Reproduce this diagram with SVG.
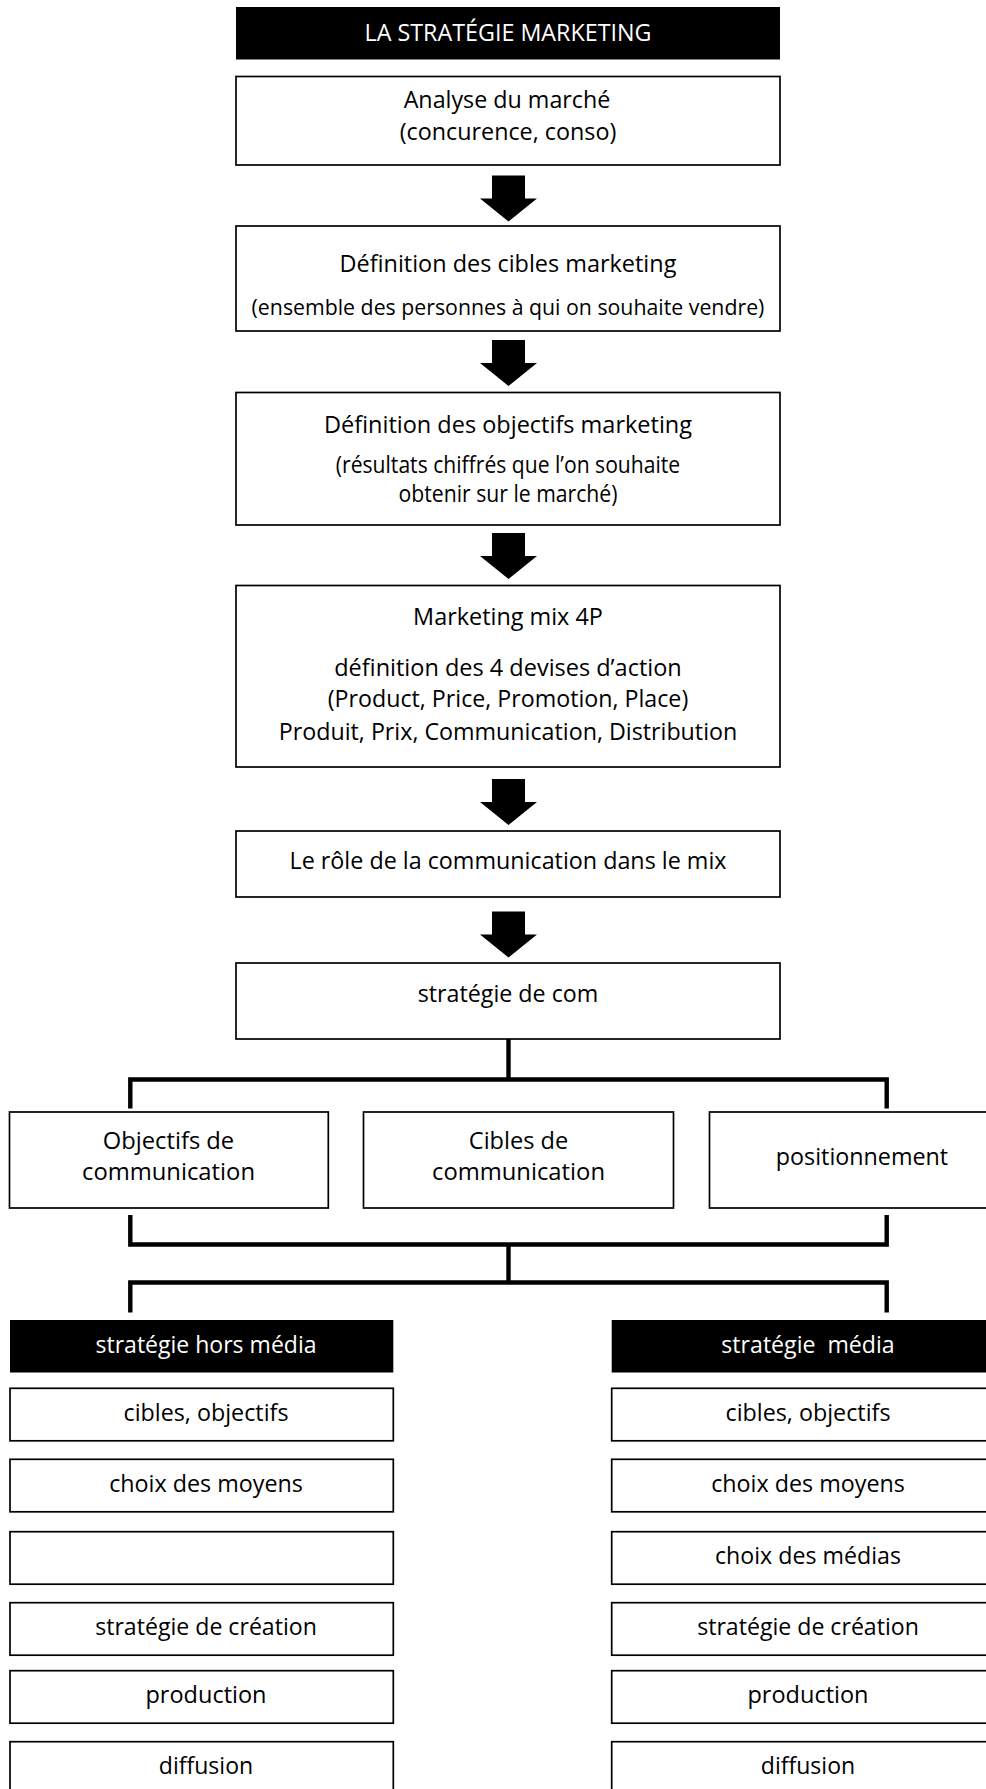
<svg xmlns="http://www.w3.org/2000/svg" width="986" height="1789" viewBox="0 0 986 1789">
<style>
  .box { fill: #ffffff; stroke: #000000; stroke-width: 1.7; }
  .hdr { fill: #000000; stroke: none; }
  .t { font-family: "Open Sans", "Noto Sans", "Liberation Sans", sans-serif; font-size: 23px; fill: #000000; text-anchor: middle; }
  .tw { font-family: "Open Sans", "Noto Sans", "Liberation Sans", sans-serif; font-size: 23px; fill: #ffffff; text-anchor: middle; }
  .sm { font-size: 21px; }
  .conn { fill: none; stroke: #000000; stroke-width: 4.4; stroke-linejoin: miter; stroke-linecap: butt; }
  .arrow { fill: #000000; stroke: none; }
</style>
<defs>
  <polygon id="arr" class="arrow" points="-16.5,0 16.5,0 16.5,23 28.5,23 0,46 -28.5,23 -16.5,23"/>
</defs>

<g id="connectors">
  <use href="#arr" transform="translate(508.5,175.5)"/>
  <use href="#arr" transform="translate(508.5,340)"/>
  <use href="#arr" transform="translate(508.5,533)"/>
  <use href="#arr" transform="translate(508.5,779)"/>
  <use href="#arr" transform="translate(508.5,911.5)"/>
  <path class="conn" d="M508.5,1039 V1079.5"/>
  <path class="conn" d="M130.3,1108.5 V1079.5 H886.7 V1108.5"/>
  <path class="conn" d="M130.3,1215 V1244.5 H886.7 V1215"/>
  <path class="conn" d="M508.5,1244.5 V1282.5"/>
  <path class="conn" d="M130.3,1312.5 V1282.5 H886.7 V1312.5"/>
</g>

<g id="title">
  <rect class="hdr" x="236" y="7" width="544" height="52.5"/>
  <text class="tw" x="508" y="40.7" textLength="287" lengthAdjust="spacingAndGlyphs">LA STRATÉGIE MARKETING</text>
</g>

<g id="analyse">
  <rect class="box" x="236" y="76.5" width="544" height="88.5"/>
  <text class="t" x="507" y="108.3" textLength="206.7" lengthAdjust="spacingAndGlyphs">Analyse du marché</text>
  <text class="t" x="508" y="140" textLength="216.7" lengthAdjust="spacingAndGlyphs">(concurence, conso)</text>
</g>

<g id="cibles-marketing">
  <rect class="box" x="236" y="226" width="544" height="105"/>
  <text class="t" x="508" y="271.7" textLength="336.8" lengthAdjust="spacingAndGlyphs">Définition des cibles marketing</text>
  <text class="t sm" x="508" y="315" textLength="512.8" lengthAdjust="spacingAndGlyphs">(ensemble des personnes à qui on souhaite vendre)</text>
</g>

<g id="objectifs-marketing">
  <rect class="box" x="236" y="392.5" width="544" height="132.5"/>
  <text class="t" x="508" y="433.3" textLength="368" lengthAdjust="spacingAndGlyphs">Définition des objectifs marketing</text>
  <text class="t" x="508" y="472.7" textLength="344.4" lengthAdjust="spacingAndGlyphs">(résultats chiffrés que l’on souhaite</text>
  <text class="t" x="508" y="502" textLength="219" lengthAdjust="spacingAndGlyphs">obtenir sur le marché)</text>
</g>

<g id="mix">
  <rect class="box" x="236" y="585.5" width="544" height="181.5"/>
  <text class="t" x="508" y="624.5" textLength="189.8" lengthAdjust="spacingAndGlyphs">Marketing mix 4P</text>
  <text class="t" x="508" y="676" textLength="347.5" lengthAdjust="spacingAndGlyphs">définition des 4 devises d’action</text>
  <text class="t" x="508" y="706.7" textLength="360.5" lengthAdjust="spacingAndGlyphs">(Product, Price, Promotion, Place)</text>
  <text class="t" x="508" y="739.5" textLength="458.5" lengthAdjust="spacingAndGlyphs">Produit, Prix, Communication, Distribution</text>
</g>

<g id="role">
  <rect class="box" x="236" y="831" width="544" height="66"/>
  <text class="t" x="508" y="869.3" textLength="437" lengthAdjust="spacingAndGlyphs">Le rôle de la communication dans le mix</text>
</g>

<g id="strategie-com">
  <rect class="box" x="236" y="963" width="544" height="76"/>
  <text class="t" x="508" y="1001.7" textLength="180.5" lengthAdjust="spacingAndGlyphs">stratégie de com</text>
</g>

<g id="objectifs-com">
  <rect class="box" x="9.5" y="1112" width="318.8" height="96"/>
  <text class="t" x="168.5" y="1149.3" textLength="131.4" lengthAdjust="spacingAndGlyphs">Objectifs de</text>
  <text class="t" x="168.5" y="1180" textLength="173" lengthAdjust="spacingAndGlyphs">communication</text>
</g>

<g id="cibles-com">
  <rect class="box" x="363.5" y="1112" width="310" height="96"/>
  <text class="t" x="518.5" y="1149.3" textLength="99.4" lengthAdjust="spacingAndGlyphs">Cibles de</text>
  <text class="t" x="518.5" y="1180" textLength="173" lengthAdjust="spacingAndGlyphs">communication</text>
</g>

<g id="positionnement">
  <rect class="box" x="709.5" y="1112" width="305" height="96"/>
  <text class="t" x="862" y="1165" textLength="172.3" lengthAdjust="spacingAndGlyphs">positionnement</text>
</g>

<g id="hors-media">
  <rect class="hdr" x="10" y="1320" width="383.3" height="52.5"/>
  <text class="tw" x="206" y="1352.7" textLength="221" lengthAdjust="spacingAndGlyphs">stratégie hors média</text>
</g>
<g id="hm-cibles">
  <rect class="box" x="10" y="1388.3" width="383.3" height="52.5"/>
  <text class="t" x="206" y="1420.8" textLength="165" lengthAdjust="spacingAndGlyphs">cibles, objectifs</text>
</g>
<g id="hm-moyens">
  <rect class="box" x="10" y="1459.3" width="383.3" height="52.5"/>
  <text class="t" x="206" y="1491.8" textLength="193.7" lengthAdjust="spacingAndGlyphs">choix des moyens</text>
</g>
<g id="hm-vide">
  <rect class="box" x="10" y="1531.7" width="383.3" height="52.5"/>
</g>
<g id="hm-creation">
  <rect class="box" x="10" y="1602.7" width="383.3" height="52.5"/>
  <text class="t" x="206" y="1635.2" textLength="221.7" lengthAdjust="spacingAndGlyphs">stratégie de création</text>
</g>
<g id="hm-production">
  <rect class="box" x="10" y="1670.7" width="383.3" height="52.5"/>
  <text class="t" x="206" y="1703.2" textLength="121" lengthAdjust="spacingAndGlyphs">production</text>
</g>
<g id="hm-diffusion">
  <rect class="box" x="10" y="1741.7" width="383.3" height="52.5"/>
  <text class="t" x="206" y="1774.2" textLength="94.3" lengthAdjust="spacingAndGlyphs">diffusion</text>
</g>

<g id="media">
  <rect class="hdr" x="611.7" y="1320" width="383.3" height="52.5"/>
  <text class="tw" x="808" y="1352.7" xml:space="preserve" textLength="173.3" lengthAdjust="spacingAndGlyphs">stratégie  média</text>
</g>
<g id="m-cibles">
  <rect class="box" x="611.7" y="1388.3" width="383.3" height="52.5"/>
  <text class="t" x="808" y="1420.8" textLength="165" lengthAdjust="spacingAndGlyphs">cibles, objectifs</text>
</g>
<g id="m-moyens">
  <rect class="box" x="611.7" y="1459.3" width="383.3" height="52.5"/>
  <text class="t" x="808" y="1491.8" textLength="193.7" lengthAdjust="spacingAndGlyphs">choix des moyens</text>
</g>
<g id="m-medias">
  <rect class="box" x="611.7" y="1531.7" width="383.3" height="52.5"/>
  <text class="t" x="808" y="1564.2" textLength="186" lengthAdjust="spacingAndGlyphs">choix des médias</text>
</g>
<g id="m-creation">
  <rect class="box" x="611.7" y="1602.7" width="383.3" height="52.5"/>
  <text class="t" x="808" y="1635.2" textLength="221.7" lengthAdjust="spacingAndGlyphs">stratégie de création</text>
</g>
<g id="m-production">
  <rect class="box" x="611.7" y="1670.7" width="383.3" height="52.5"/>
  <text class="t" x="808" y="1703.2" textLength="121" lengthAdjust="spacingAndGlyphs">production</text>
</g>
<g id="m-diffusion">
  <rect class="box" x="611.7" y="1741.7" width="383.3" height="52.5"/>
  <text class="t" x="808" y="1774.2" textLength="94.3" lengthAdjust="spacingAndGlyphs">diffusion</text>
</g>
</svg>
